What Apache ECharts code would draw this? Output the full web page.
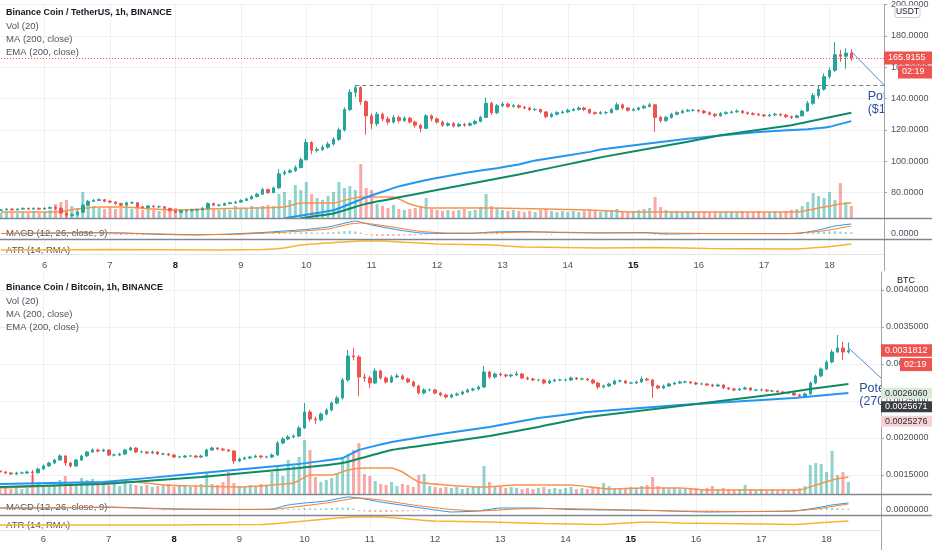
<!DOCTYPE html>
<html>
<head>
<meta charset="utf-8">
<script src="https://cdn.jsdelivr.net/npm/echarts@6/dist/echarts.min.js"></script>
<style>
html,body{margin:0;padding:0;background:#ffffff;}
#chart{width:932px;height:550px;}
</style>
</head>
<body>
<div id="chart"></div>
<script>
// ================= DATA =================
// 2-hour bars, first bar = day 5 08:00
const startDay = 5, startHour = 8, barHours = 2;
const mondays = ['8', '15'];
const extraSlots = 6;

// ---- BNB / USDT ----
const usdtOpen0 = 68.8;
const usdtClose = [69,69.5,69,69.5,70,69.5,70,69.5,70,70.5,
70,67,65.5,66,67.5,72,74.5,75,75.5,74.5,
74,73,72,73.5,73.5,71,70.5,71.5,71,71,
70,68.5,67.5,68.5,68.5,69,69,70,73,72,
72,73,73.5,74,75,76,77.5,79,82,80,
83,92,93,94,96,101,112,107,107.5,109,
111,114,120,133,144,147,138,129,124,130,
127,125,128,126,127.5,125,123,121,129,127,
125,123,124,122.5,123.5,123,124,125.5,128,137,
131,135.5,136.5,135,135.5,134.5,134,133,133,131.5,
128.5,130,131,131.5,132.5,133,134,133,131,130.5,
131,131,133,136,134,132.5,133,134,135,136,
128,126,128,130,131,132,132.5,132.5,132,131,
130,129,130.5,131,131.5,132,131,130.5,130,129.5,
129,129.5,130,129.5,128.5,128,129,132,137,142,
146,154,158,168,167,169,165.9155];
const usdtHigh = [69.6,70.0,70.0,70.1,70.6,70.4,70.6,70.5,70.7,71.2,
71.5,70.6,67.8,66.8,68.2,72.8,75.4,76.0,76.4,76.0,
75.2,74.6,73.6,74.2,74.4,74.0,71.6,72.2,72.0,71.8,
71.5,70.4,69.0,69.2,69.2,69.7,69.8,70.8,73.8,73.6,
72.8,73.7,74.2,74.8,75.8,76.8,78.4,79.9,83.0,82.6,
84.0,95.0,94.6,95.2,97.4,102.5,114.5,112.8,109.0,110.5,
112.5,115.5,121.5,134.5,146.0,148.8,148.0,139.0,130.5,131.5,
131.0,128.5,129.5,129.0,128.8,128.5,126.0,124.0,130.0,130.0,
128.0,126.0,125.0,125.0,124.5,124.5,125.0,126.5,129.0,140.6,
138.0,136.5,137.8,137.5,136.6,136.2,135.3,134.8,134.0,133.6,
132.0,131.0,132.0,132.4,133.5,134.0,135.0,134.8,133.6,131.8,
132.0,132.0,134.0,137.5,136.8,134.6,134.0,135.0,136.0,137.2,
136.5,129.0,129.0,131.0,132.0,133.0,133.4,133.4,133.2,132.8,
131.8,130.8,131.4,132.0,132.4,133.0,132.8,131.8,131.3,130.8,
130.3,130.3,130.9,130.7,130.2,129.2,129.8,133.0,138.5,143.5,
148.0,156.0,160.0,176.0,171.0,172.0,171.5];
const usdtLow = [68.4,68.7,68.6,68.7,69.1,69.0,69.2,69.0,69.2,69.6,
69.0,66.2,64.0,64.6,65.4,67.0,71.6,74.0,74.6,73.8,
73.2,72.4,71.2,71.6,72.8,70.4,69.8,70.0,70.4,70.2,
69.4,67.8,66.8,67.0,67.8,68.0,68.3,68.6,69.6,71.4,
71.2,71.6,72.6,73.0,73.6,74.6,75.6,77.0,78.6,79.2,
79.6,82.6,91.0,92.2,93.2,95.5,100.5,104.5,105.5,106.5,
108.0,110.0,113.0,119.0,132.0,141.0,136.0,117.0,120.5,122.5,
125.5,123.5,124.0,124.5,125.0,124.0,121.5,118.5,120.5,125.5,
124.0,122.0,122.2,121.5,121.8,122.0,122.3,123.2,124.8,127.5,
129.5,130.0,134.5,134.0,134.2,133.6,133.0,132.2,132.0,130.5,
127.5,127.8,129.2,130.2,130.8,131.8,132.4,132.0,130.2,129.6,
129.8,130.0,130.5,132.5,133.0,131.6,131.8,132.4,133.4,134.4,
118.8,124.5,125.0,127.2,129.4,130.4,131.4,131.6,131.2,130.2,
129.2,128.0,128.4,129.8,130.4,131.0,130.2,129.6,129.2,128.8,
128.2,128.4,128.8,128.6,127.6,127.0,127.4,128.5,131.5,136.0,
140.0,145.0,152.5,157.0,163.5,159.0,164.0];
const usdtVol = [5,6,5,5,6,5,7,5,6,8, 14,16,18,12,10,26,14,12,10,9,
11,9,10,12,9,13,8,9,8,7, 8,9,10,7,7,8,9,8,11,9,
8,10,8,12,9,10,12,11,12,13, 12,24,26,18,33,28,36,24,20,18,
22,26,36,30,32,28,54,30,28,14, 12,10,13,9,8,9,10,12,20,9,
8,7,8,7,8,9,7,8,11,24, 12,10,8,7,8,7,6,7,6,8,
9,7,6,7,6,7,6,7,8,7, 6,7,8,9,7,6,7,8,9,10,
21,11,8,7,7,6,7,6,6,7, 6,7,6,7,6,6,7,6,6,7,
6,6,7,6,7,8,9,12,16,25, 22,20,26,18,35,16,12];
const usdtVolMA = [[0,6],[10,6],[14,9],[18,11],[22,11],[28,9],[32,8],[38,9],[46,10],[52,11],[55,15],[61,15],[64,19],[66,21],[72,21],[75,14],[78,10],[90,10],[100,9],[108,8],[116,6],[146,6],[150,10],[154,14],[156,15]];
const usdtMA = [[52,63.75],[61,68.75],[67,77],[73,84],[79,88.75],[85,92.5],[91,95.6],[95,98],[98,100.5],[108,106],[110,107.5],[126,114.4],[139,118.75],[148,120.5],[152,122],[156,125.6]];
const usdtEMA = [[55,63.75],[61,66.7],[67,73],[73,77],[79,81],[95,91.6],[108,101],[110,102.5],[126,112.5],[132,116.6],[145,123],[156,131]];
const usdtMacd = [[0,0.5],[10,1],[16,1.5],[22,1],[30,-0.5],[36,-1],[42,0],[48,1.5],[52,3],[56,4.5],[60,7],[64,12],[65,13],[68,9],[73,4],[77,1],[82,0.5],[86,0.5],[90,2],[96,2.5],[102,1.5],[110,1],[118,1.5],[122,0],[130,0.5],[140,0.5],[146,0.5],[150,4],[153,8],[156,10]];
const usdtSignal = [[0,0.5],[10,0.8],[18,1.2],[26,0.5],[34,-0.5],[42,-0.5],[48,0.8],[54,2.5],[60,5],[64,10],[66,11],[68,10],[73,6],[77,2.5],[82,1],[88,1],[92,1.5],[100,2],[110,1.2],[120,1],[130,0.5],[144,0.3],[150,2.5],[153,5],[156,8]];
const usdtHist = [[20,-0.5],[21,-0.8],[22,-1],[23,-0.8],[24,-0.6],[25,-0.8],[26,-1],[27,-0.6],[44,0.5],[46,0.8],[48,1],[50,1.2],[51,1.5],[52,1.5],[53,1.2],[54,1.5],[55,1.8],[56,2],[57,1.5],[58,1.2],[59,1.5],[60,1.8],[61,2],[62,2.5],[63,3],[64,3],[65,2.5],[66,1.5],[67,-1],[68,-1.5],[69,-2],[70,-2],[71,-2],[72,-2],[73,-1.8],[74,-1.5],[75,-1.5],[76,-1.2],[77,-1],[78,-0.8],[88,0.6],[89,1],[90,0.8],[91,1],[92,0.8],[100,-0.5],[101,-0.6],[120,-0.6],[121,-0.8],[122,-0.6],[147,0.8],[148,1.2],[149,1.6],[150,2],[151,2.4],[152,2.6],[153,2.8],[154,2.4],[155,2],[156,1.8]];
const usdtAtr = [[0,4],[20,4.5],[40,4],[48,4.5],[52,6],[55,9],[60,11],[66,13],[70,13],[75,11.5],[80,10],[90,9],[96,7],[110,6],[120,6.5],[130,5.5],[145,5],[150,6.5],[153,8],[156,10]];
const usdtLast = 165.9155, usdtTimer = '02:19';
const usdtLevel = 148.75, usdtLevelFrom = 65;
const usdtArrow = [[156,170],[162,148.75]];
const usdtNote = [159, 137];
const usdtNoteText = ['Potential target', '($150)'];

// ---- BNB / BTC ----
const btcOpen0 = 0.001555;
const btcClose = [0.001541,0.001527,0.001514,0.001527,0.001527,0.001541,0.001530,0.001581,0.001622,0.001662,
0.001703,0.001757,0.001662,0.001622,0.001703,0.001757,0.001811,0.001838,0.001824,0.001838,
0.001770,0.001770,0.001784,0.001838,0.001865,0.001811,0.001811,0.001797,0.001811,0.001784,
0.001784,0.001770,0.001743,0.001743,0.001757,0.001757,0.001743,0.001757,0.001838,0.001865,
0.001851,0.001838,0.001824,0.001689,0.001716,0.001730,0.001743,0.001757,0.001743,0.001743,
0.001770,0.001932,0.001986,0.002014,0.002027,0.002135,0.002351,0.002257,0.002243,0.002324,
0.002378,0.002473,0.002541,0.002784,0.003108,0.003095,0.002824,0.002811,0.002743,0.002905,
0.002811,0.002757,0.002824,0.002838,0.002797,0.002757,0.002703,0.002608,0.002649,0.002649,
0.002608,0.002581,0.002554,0.002581,0.002595,0.002622,0.002649,0.002662,0.002689,0.002892,
0.002824,0.002865,0.002851,0.002838,0.002851,0.002865,0.002811,0.002797,0.002784,0.002784,
0.002743,0.002770,0.002784,0.002784,0.002784,0.002811,0.002797,0.002797,0.002784,0.002743,
0.002689,0.002703,0.002730,0.002770,0.002770,0.002743,0.002743,0.002757,0.002797,0.002784,
0.002703,0.002676,0.002703,0.002730,0.002743,0.002757,0.002757,0.002743,0.002730,0.002730,
0.002716,0.002703,0.002716,0.002676,0.002662,0.002649,0.002662,0.002676,0.002649,0.002649,
0.002649,0.002635,0.002635,0.002622,0.002608,0.002608,0.002581,0.002568,0.002595,0.002743,
0.002838,0.002932,0.003027,0.003162,0.003216,0.003162,0.0031812];
const btcHigh = [0.001570,0.001555,0.001540,0.001545,0.001545,0.001560,0.001570,0.001600,0.001640,0.001680,
0.001720,0.001780,0.001770,0.001680,0.001720,0.001775,0.001830,0.001860,0.001855,0.001855,
0.001850,0.001790,0.001800,0.001855,0.001885,0.001875,0.001830,0.001825,0.001830,0.001825,
0.001800,0.001798,0.001785,0.001760,0.001772,0.001772,0.001770,0.001775,0.001855,0.001885,
0.001880,0.001865,0.001852,0.001838,0.001735,0.001748,0.001760,0.001775,0.001770,0.001762,
0.001790,0.001960,0.002010,0.002040,0.002050,0.002160,0.002473,0.002380,0.002290,0.002345,
0.002400,0.002495,0.002570,0.002810,0.003190,0.003216,0.003120,0.002870,0.002840,0.002940,
0.002920,0.002830,0.002850,0.002870,0.002860,0.002815,0.002775,0.002720,0.002670,0.002670,
0.002665,0.002625,0.002600,0.002600,0.002615,0.002640,0.002668,0.002680,0.002710,0.002973,
0.002910,0.002885,0.002885,0.002870,0.002870,0.002900,0.002880,0.002830,0.002815,0.002800,
0.002800,0.002790,0.002800,0.002800,0.002802,0.002830,0.002825,0.002815,0.002812,0.002800,
0.002760,0.002722,0.002748,0.002790,0.002790,0.002785,0.002760,0.002775,0.002830,0.002815,
0.002800,0.002720,0.002722,0.002748,0.002760,0.002775,0.002775,0.002772,0.002760,0.002748,
0.002745,0.002732,0.002735,0.002730,0.002690,0.002678,0.002680,0.002695,0.002690,0.002665,
0.002668,0.002662,0.002652,0.002650,0.002638,0.002625,0.002622,0.002598,0.002615,0.002765,
0.002860,0.002955,0.003050,0.003195,0.003392,0.003300,0.003290];
const btcLow = [0.001525,0.001512,0.001500,0.001500,0.001512,0.001515,0.001380,0.001520,0.001570,0.001610,
0.001650,0.001695,0.001622,0.001600,0.001610,0.001690,0.001745,0.001800,0.001805,0.001810,
0.001755,0.001750,0.001755,0.001770,0.001825,0.001795,0.001795,0.001780,0.001785,0.001770,
0.001768,0.001755,0.001728,0.001728,0.001730,0.001742,0.001728,0.001730,0.001745,0.001825,
0.001835,0.001822,0.001808,0.001649,0.001675,0.001702,0.001715,0.001730,0.001725,0.001725,
0.001728,0.001760,0.001915,0.001970,0.001995,0.002010,0.002120,0.002220,0.002190,0.002225,
0.002305,0.002360,0.002455,0.002520,0.002760,0.003050,0.002568,0.002760,0.002676,0.002730,
0.002790,0.002735,0.002740,0.002805,0.002780,0.002740,0.002685,0.002585,0.002590,0.002630,
0.002590,0.002560,0.002530,0.002535,0.002565,0.002580,0.002605,0.002632,0.002645,0.002675,
0.002800,0.002805,0.002832,0.002820,0.002820,0.002835,0.002795,0.002780,0.002768,0.002768,
0.002725,0.002728,0.002755,0.002768,0.002768,0.002770,0.002780,0.002780,0.002768,0.002725,
0.002660,0.002672,0.002690,0.002715,0.002752,0.002728,0.002728,0.002730,0.002745,0.002768,
0.002541,0.002655,0.002660,0.002690,0.002715,0.002728,0.002740,0.002728,0.002715,0.002715,
0.002700,0.002688,0.002690,0.002660,0.002648,0.002632,0.002635,0.002648,0.002632,0.002632,
0.002632,0.002620,0.002620,0.002605,0.002592,0.002592,0.002565,0.002550,0.002552,0.002585,
0.002725,0.002820,0.002915,0.003010,0.003150,0.003054,0.003140];
const btcVol = [5,6,5,6,5,6,19,12,8,9, 9,14,18,12,10,16,14,15,12,10,
9,11,8,14,10,9,8,9,7,8, 9,10,7,8,9,7,8,10,21,10,
9,12,22,11,8,7,9,8,10,9, 22,27,18,34,28,37,54,44,17,12,
14,16,20,37,40,44,51,20,18,13, 10,9,12,8,10,9,7,19,20,8,
7,6,7,6,7,5,6,7,8,28, 12,8,7,6,7,6,5,6,5,6,
7,5,6,5,6,7,5,6,5,6, 7,11,8,6,5,6,7,6,8,9,
17,8,6,5,6,5,6,5,6,5, 6,8,5,6,5,4,5,9,5,4,
5,4,5,4,5,4,5,6,8,29, 31,30,22,43,19,22,12];
const btcVolMA = [[0,6],[10,8],[18,11],[25,12],[30,9],[36,8],[44,7],[50,9],[54,11],[57,19],[61,19],[64,24],[67,26],[72,26],[74,22],[77,12],[82,9],[89,7],[95,9],[105,9],[112,5],[118,6],[125,6],[130,4],[147,4],[150,9],[153,14],[156,17]];
const btcMA = [[0,0.001380],[19,0.001405],[37,0.001527],[55,0.001649],[63,0.001730],[66,0.001838],[72,0.001946],[81,0.002054],[90,0.002149],[99,0.002270],[108,0.002351],[125,0.002446],[137,0.002500],[146,0.002541],[156,0.002608]];
const btcEMA = [[0,0.001338],[19,0.001378],[37,0.001473],[55,0.001595],[63,0.001662],[72,0.001838],[81,0.001932],[90,0.002027],[99,0.002149],[108,0.002284],[125,0.002432],[134,0.002514],[143,0.002595],[149,0.002662],[156,0.002730]];
const btcMacd = [[0,2],[10,2],[20,3],[30,1],[40,0.5],[50,1],[53,5],[56,7],[60,9],[64,13],[66,12],[70,8],[75,4],[80,0],[83,-2],[88,-1],[92,2],[98,2],[105,0.5],[112,0],[120,-0.5],[130,-2],[140,-1.5],[146,-1],[150,2],[153,5],[156,7]];
const btcSignal = [[0,2],[20,2.5],[35,1],[50,0.5],[54,3],[60,7],[66,12],[70,10],[76,5],[82,1],[88,-1],[95,1],[102,1.5],[112,0.5],[125,-1],[135,-1.5],[146,-1],[150,1],[153,3.5],[156,6]];
const btcHist = [[10,0.5],[12,0.6],[14,0.5],[28,-0.5],[30,-0.6],[32,-0.5],[52,0.8],[53,1],[54,1.2],[55,1.5],[56,2],[57,1.8],[58,1.5],[59,1.5],[60,1.8],[61,2],[62,2.2],[63,2.5],[64,2.5],[65,1.5],[66,-1],[67,-1.5],[68,-2],[69,-2],[70,-2],[71,-2],[72,-1.8],[73,-1.6],[74,-1.4],[75,-1.2],[76,-1],[77,-1],[78,-0.8],[89,1],[90,0.8],[91,0.8],[92,0.6],[110,-0.5],[112,-0.6],[120,-0.8],[121,-0.6],[130,-0.5],[131,-0.6],[132,-0.5],[148,0.6],[149,1],[150,1.4],[151,1.8],[152,2],[153,2],[154,1.6],[155,1.4],[156,1.2]];
const btcAtr = [[0,5],[30,5],[48,5.5],[52,7],[56,9],[60,11],[65,13],[70,13],[75,11],[80,9],[90,8],[100,6.5],[110,5.5],[119,8],[125,7],[140,6],[146,5.5],[150,7],[156,9]];
const btcLast = 0.0031812, btcTimer = '02:19';
const btcArrow = [[156,0.00322],[162,0.002811]];
const btcNote = [158, 0.002574];
const btcNoteText = ['Potential target', '(2700 sat)'];
const btcTags = [['0.0026060', 0.002606], ['0.0025671', 0.0025671], ['0.0025276', 0.0025276]];

// ================= BUILD =================
const FONT = 'Liberation Sans, Arial, sans-serif';
const GRID = '#eef0f4', AXIS = '#a3a6af', TXT = '#4c525e';
const UP = '#26a69a', DN = '#ef5350';
const VUP = 'rgba(38,166,154,0.5)', VDN = 'rgba(239,83,80,0.5)';

const N = usdtClose.length + extraSlots;
const cats = [];
for (let i = 0; i < N; i++) {
  const t = startHour + i * barHours;
  const d = startDay + Math.floor(t / 24), h = t % 24;
  cats.push(d + ' ' + String(h).padStart(2, '0'));
}
const isDay = (i, v) => String(v).split(' ')[1] === '00';
const dayLabel = (v) => {
  const [d, h] = String(v).split(' ');
  if (h !== '00') return '';
  return mondays.includes(d) ? '{b|' + d + '}' : d;
};

function panel(p) {
  const g = p.gi;
  const grids = [
    {left: p.left, right: p.right, top: p.top, height: p.priceH},
    {left: p.left, right: p.right, top: p.volTop, height: p.volH},
    {left: p.left, right: p.right, top: p.macdTop, height: 20},
    {left: p.left, right: p.right, top: p.atrTop, height: 14}
  ];
  const xb = {type: 'category', data: cats, boundaryGap: false};
  const vs = {show: true, interval: isDay, lineStyle: {color: GRID, width: 1}};
  const xAxes = [
    Object.assign({}, xb, {gridIndex: g, axisLine: {show: false}, axisTick: {show: false}, axisLabel: {show: false}, splitLine: vs}),
    Object.assign({}, xb, {gridIndex: g + 1, show: false}),
    Object.assign({}, xb, {gridIndex: g + 2, axisLine: {show: false}, axisTick: {show: false}, axisLabel: {show: false}, splitLine: vs}),
    Object.assign({}, xb, {gridIndex: g + 3, axisLine: {show: true, lineStyle: {color: '#e3e5ea'}}, axisTick: {show: false},
      axisLabel: {show: true, interval: isDay, formatter: dayLabel, margin: p.xLabelMargin, color: TXT, fontSize: 9.5, fontFamily: FONT,
        rich: {b: {fontWeight: 'bold', fontSize: 9.5, color: '#131722', fontFamily: FONT}}}, splitLine: vs})
  ];
  const yl = {color: TXT, fontSize: 9, fontFamily: FONT, margin: p.yLabelMargin};
  const yAxes = [
    {type: 'value', gridIndex: g, position: 'right', min: p.min, max: p.max, interval: p.interval,
      axisLine: {show: true, lineStyle: {color: AXIS}}, axisTick: {show: true, length: 3, lineStyle: {color: AXIS}},
      axisLabel: Object.assign({}, yl, {formatter: v => v.toFixed(p.decimals), showMinLabel: false, showMaxLabel: p.showMax}),
      splitLine: {show: true, lineStyle: {color: GRID}, showMinLine: false, showMaxLine: p.showMax}},
    {type: 'value', gridIndex: g + 1, show: false, min: 0, max: p.volH},
    {type: 'value', gridIndex: g + 2, position: 'right', min: -5, max: 15, interval: 5,
      axisLine: {show: true, lineStyle: {color: AXIS}}, axisTick: {show: false},
      axisLabel: Object.assign({}, yl, {formatter: v => (Math.abs(v) < 1e-9 ? (0).toFixed(p.decimals) : '')}),
      splitLine: {show: false}},
    {type: 'value', gridIndex: g + 3, position: 'right', min: 0, max: 14,
      axisLine: {show: true, lineStyle: {color: AXIS}}, axisTick: {show: false}, axisLabel: {show: false}, splitLine: {show: false}}
  ];
  const cd = p.close.map((c, i) => [i ? p.close[i - 1] : p.open0, c, p.low[i], p.high[i]]);
  const ml = [
    {yAxis: p.last, lineStyle: {color: DN, type: [1, 2], width: 1}}
  ];
  if (p.level != null) ml.push([{coord: [p.levelFrom, p.level], lineStyle: {color: '#7b7e88', type: [4, 3], width: 1}}, {coord: [N - 1, p.level]}]);
  ml.push([{coord: p.arrow[0], lineStyle: {color: '#5b85d4', type: 'solid', width: 1}}, {coord: p.arrow[1]}]);
  const line = (xi, yi, data, color, width, z, sm) => ({type: 'line', xAxisIndex: xi, yAxisIndex: yi, data, showSymbol: false,
    smooth: sm == null ? 0.15 : sm, lineStyle: {color, width}, z: z || 3, silent: true});
  const series = [
    {type: 'bar', xAxisIndex: g + 1, yAxisIndex: g + 1, barWidth: 3, silent: true,
      data: p.vol.map((v, i) => ({value: v, itemStyle: {color: cd[i][1] >= cd[i][0] ? VUP : VDN}}))},
    line(g + 1, g + 1, p.volMA, '#f7934c', 1.5),
    {type: 'candlestick', xAxisIndex: g, yAxisIndex: g, data: cd, barWidth: 3, silent: true, z: 4,
      itemStyle: {color: UP, color0: DN, borderColor: UP, borderColor0: DN, borderWidth: 1},
      markLine: {silent: true, symbol: ['none', 'none'], label: {show: false}, data: ml}},
    line(g, g, p.ma, '#2196f3', 2, 5, 0.08),
    line(g, g, p.ema, '#0f8a66', 2, 5, 0.08),
    {type: 'custom', xAxisIndex: g, yAxisIndex: g, clip: true, silent: true, z: 6, data: [p.note],
      renderItem: (params, api) => {
        const pt = api.coord([api.value(0), api.value(1)]);
        return {type: 'text', x: pt[0], y: pt[1], style: {text: p.noteText.join('\n'), fill: '#2a4f9e',
          font: '12.5px ' + FONT, lineHeight: 13, verticalAlign: 'middle', align: 'left'}};
      }},
    {type: 'bar', xAxisIndex: g + 2, yAxisIndex: g + 2, barWidth: 2, silent: true,
      data: p.hist.map(([i, v]) => ({value: [i, v], itemStyle: {color: v >= 0 ? VUP : VDN}}))},
    line(g + 2, g + 2, p.macd, '#2196f3', 1),
    line(g + 2, g + 2, p.signal, '#ff7a1a', 1),
    line(g + 3, g + 3, p.atr, '#f7b52c', 1.5)
  ];
  return {grids, xAxes, yAxes, series};
}

const panelTop = panel({gi: 0, left: 1, right: 48, top: 0, priceH: 224, min: 60, max: 200, interval: 20, decimals: 4, showMax: true,
  volTop: 140, volH: 78, macdTop: 219, atrTop: 240, xLabelMargin: 6, yLabelMargin: 7,
  open0: usdtOpen0, close: usdtClose, high: usdtHigh, low: usdtLow, vol: usdtVol, volMA: usdtVolMA, ma: usdtMA, ema: usdtEMA,
  macd: usdtMacd, signal: usdtSignal, hist: usdtHist, atr: usdtAtr, last: usdtLast, level: usdtLevel, levelFrom: usdtLevelFrom,
  arrow: usdtArrow, note: usdtNote, noteText: usdtNoteText});
const panelBot = panel({gi: 4, left: -2, right: 51, top: 272, priceH: 240, min: 0.0010, max: 0.004243, interval: 0.0005, decimals: 7, showMax: false,
  volTop: 414, volH: 80, macdTop: 495, atrTop: 516, xLabelMargin: 4, yLabelMargin: 5,
  open0: btcOpen0, close: btcClose, high: btcHigh, low: btcLow, vol: btcVol, volMA: btcVolMA, ma: btcMA, ema: btcEMA,
  macd: btcMacd, signal: btcSignal, hist: btcHist, atr: btcAtr, last: btcLast, level: null,
  arrow: btcArrow, note: btcNote, noteText: btcNoteText});

const chart = echarts.init(document.getElementById('chart'), null, {renderer: 'canvas'});
chart.setOption({
  animation: false,
  backgroundColor: '#ffffff',
  textStyle: {fontFamily: FONT},
  grid: panelTop.grids.concat(panelBot.grids),
  xAxis: panelTop.xAxes.concat(panelBot.xAxes),
  yAxis: panelTop.yAxes.concat(panelBot.yAxes),
  series: panelTop.series.concat(panelBot.series)
});

// ---------- overlay texts & price tags ----------
const T = (x, y, s, o) => {
  o = o || {};
  return {type: 'text', x, y, z: o.z || 1, silent: true,
    style: {text: s, fill: o.fill || '#50535e', font: (o.bold ? 'bold ' : '') + (o.size || 9.5) + 'px ' + FONT,
      verticalAlign: 'middle', align: o.align || 'left'}};
};
const tag = (x, yc, w, h, bg, fg, s) => [
  {type: 'rect', z: 100, silent: true, shape: {x, y: yc - h / 2, width: w, height: h}, style: {fill: bg}},
  {type: 'text', z: 101, silent: true, x: x + 4, y: yc, style: {text: s, fill: fg, font: '9px ' + FONT, verticalAlign: 'middle'}}
];
const sep = (y) => ({type: 'line', z: 50, silent: true, shape: {x1: 0, y1: y, x2: 932, y2: y}, style: {stroke: '#84878f', lineWidth: 1.5}});

const yT = chart.convertToPixel({yAxisIndex: 0}, usdtLast);
const yB = chart.convertToPixel({yAxisIndex: 4}, btcLast);
const yG = chart.convertToPixel({yAxisIndex: 4}, btcTags[0][1]);

let gr = [
  T(6, 13, 'Binance Coin / TetherUS, 1h, BINANCE', {bold: true, fill: '#131722', size: 9}),
  T(6, 26, 'Vol (20)'), T(6, 39, 'MA (200, close)'), T(6, 52, 'EMA (200, close)'),
  T(6, 233, 'MACD (12, 26, close, 9)'), T(6, 250, 'ATR (14, RMA)'),
  T(6, 288, 'Binance Coin / Bitcoin, 1h, BINANCE', {bold: true, fill: '#131722', size: 9}),
  T(6, 301, 'Vol (20)'), T(6, 314, 'MA (200, close)'), T(6, 327, 'EMA (200, close)'),
  T(6, 507, 'MACD (12, 26, close, 9)'), T(6, 525, 'ATR (14, RMA)'),
  sep(218.5), sep(239.5), sep(494.5), sep(515.5),
  {type: 'line', z: 50, silent: true, shape: {x1: 884.5, y1: 254, x2: 884.5, y2: 271}, style: {stroke: AXIS, lineWidth: 1}},
  {type: 'line', z: 50, silent: true, shape: {x1: 881.5, y1: 530, x2: 881.5, y2: 550}, style: {stroke: AXIS, lineWidth: 1}},
  {type: 'rect', z: 100, silent: true, shape: {x: 895, y: 5.5, width: 25, height: 12, r: 2}, style: {fill: '#fff', stroke: '#c9ccd3', lineWidth: 1}},
  T(907.5, 11.5, 'USDT', {size: 8.5, fill: '#131722', align: 'center', z: 101}),
  T(906, 281, 'BTC', {size: 9, fill: '#131722', align: 'center', z: 101})
];
gr = gr.concat(tag(884, yT, 48, 13, DN, '#fff', usdtLast.toFixed(4)));
gr = gr.concat(tag(898, yT + 14, 34, 13, DN, '#fff', usdtTimer));
gr = gr.concat(tag(881, yB, 51, 12.5, DN, '#fff', btcLast.toFixed(7)));
gr = gr.concat(tag(900, yB + 14, 32, 13, DN, '#fff', btcTimer));
gr = gr.concat(tag(881, yG, 51, 11, '#dcebd8', '#2a2e39', btcTags[0][0]));
gr = gr.concat(tag(881, yG + 13.5, 51, 11, '#3a3d45', '#ffffff', btcTags[1][0]));
gr = gr.concat(tag(881, yG + 28, 51, 11, '#f6d2d2', '#2a2e39', btcTags[2][0]));
chart.setOption({graphic: gr});
</script>
</body>
</html>
